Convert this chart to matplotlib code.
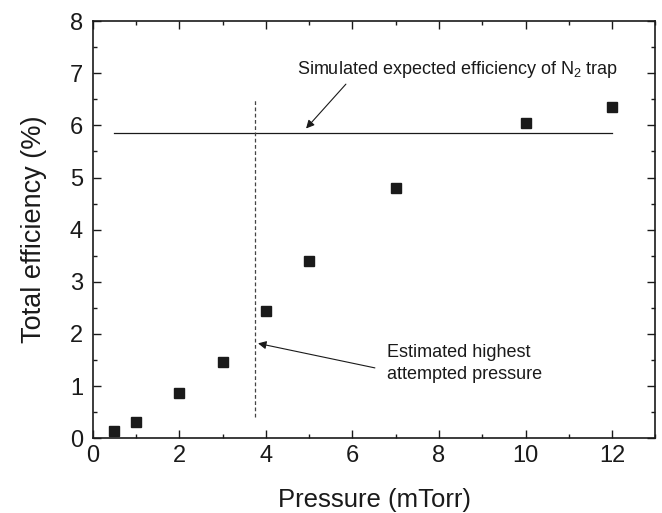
import matplotlib
matplotlib.use("Agg")
import matplotlib.pyplot as plt
from matplotlib.ticker import MultipleLocator

plt.rcParams['font.family'] = ['Liberation Sans', 'DejaVu Sans']
plt.rcParams['mathtext.fontset'] = 'custom'
plt.rcParams['mathtext.rm'] = 'Liberation Sans'
plt.rcParams['mathtext.it'] = 'Liberation Sans'

pressure = [0.5, 1, 2, 3, 4, 5, 7, 10, 12]
efficiency = [0.14, 0.32, 0.87, 1.47, 2.44, 3.39, 4.80, 6.05, 6.35]
simulated_eff = 5.85
sim_range = [0.5, 12]
highest_pressure = 3.75
highest_range = [0.4, 6.5]

fig = plt.figure(figsize=(6.62, 5.13), dpi=100)
ax = fig.add_axes([0.140, 0.1456, 0.850, 0.8134])

ax.plot(pressure, efficiency, 's', color='#1a1a1a', markersize=7, linestyle='none')
ax.plot(sim_range, [simulated_eff, simulated_eff], color='#1a1a1a', lw=0.9)
ax.plot([highest_pressure, highest_pressure], highest_range, color='#444444', lw=0.9,
        linestyle=(0, (3, 2)))

arrow_kw = dict(arrowstyle='-|>', color='#1a1a1a', lw=0.8, mutation_scale=12,
                shrinkA=0, shrinkB=0)
ax.annotate('', xy=(4.93, 5.94), xytext=(5.85, 6.79), arrowprops=arrow_kw)
ax.text(8.43, 6.98, 'Simulated expected efficiency of N$_2$ trap', fontsize=13,
        ha='center', va='baseline', color='#1a1a1a')
ax.annotate('', xy=(3.82, 1.82), xytext=(6.52, 1.35), arrowprops=arrow_kw)
ax.text(6.79, 1.553, 'Estimated highest', fontsize=13, ha='left', va='baseline', color='#1a1a1a')
ax.text(6.79, 1.131, 'attempted pressure', fontsize=13, ha='left', va='baseline', color='#1a1a1a')

ax.set_xlim(0, 13)
ax.set_ylim(0, 8)
ax.xaxis.set_major_locator(MultipleLocator(2))
ax.xaxis.set_minor_locator(MultipleLocator(1))
ax.yaxis.set_major_locator(MultipleLocator(1))
ax.yaxis.set_minor_locator(MultipleLocator(0.5))
ax.tick_params(which='both', direction='in', top=True, right=True, width=1.0, color='#1a1a1a')
ax.tick_params(which='major', length=6, labelsize=17, labelcolor='#1a1a1a')
ax.tick_params(axis='x', which='major', pad=5)
ax.tick_params(axis='y', which='major', pad=7)
ax.tick_params(which='minor', length=3)
for s in ax.spines.values():
    s.set_linewidth(1.2)
    s.set_color('#1a1a1a')

ax.set_xlabel('Pressure (mTorr)', fontsize=18.5, labelpad=15, color='#1a1a1a')
ax.set_ylabel('Total efficiency (%)', fontsize=19.5, labelpad=16, color='#1a1a1a')

fig.savefig('out.png', dpi=100)
